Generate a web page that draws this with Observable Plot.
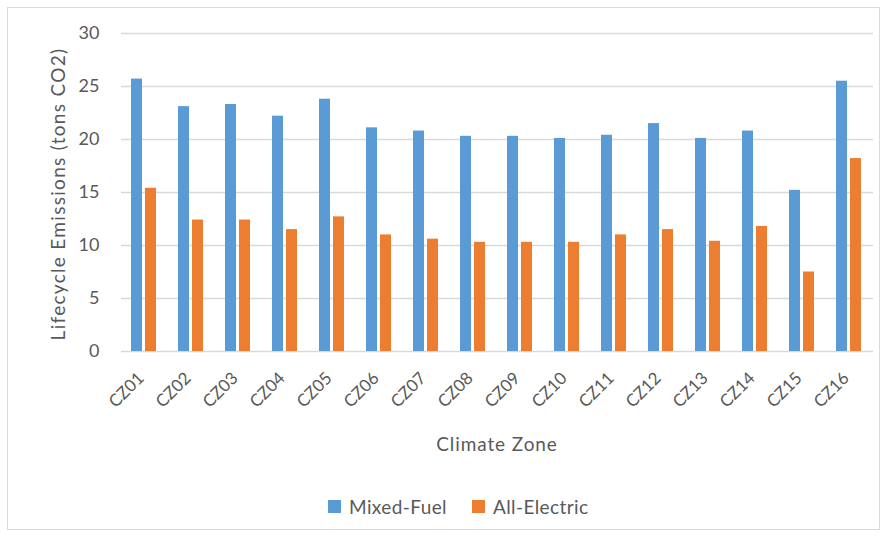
<!DOCTYPE html>
<html>
<head>
<meta charset="utf-8">
<script src="https://cdn.jsdelivr.net/npm/d3@7"></script>
<script src="https://cdn.jsdelivr.net/npm/@observablehq/plot@0.6"></script>
<style>
  html, body { margin: 0; padding: 0; background: #fff; }
  body { width: 886px; height: 536px; position: relative; overflow: hidden; font-family: Lato, "Open Sans", sans-serif; }
  #frame { position: absolute; left: 7px; top: 7px; width: 871px; height: 521px; border: 1px solid #d9d9d9; }
  #chart { position: absolute; left: 0; top: 0; }
  .title { position: absolute; color: #595959; font-size: 19px; white-space: nowrap; line-height: 1; }
  #ytitle { left: 57px; top: 194px; transform: translate(-50%, -50%) rotate(-90deg); letter-spacing: 1.3px; }
  #xtitle { left: 497px; top: 443px; transform: translate(-50%, -50%); letter-spacing: 0.9px; }
  #legend { position: absolute; top: 495px; left: 0; width: 886px; color: #595959; font-size: 19px; letter-spacing: 0.4px; }
  .item { position: absolute; display: flex; align-items: center; white-space: nowrap; }
  .sw { width: 13px; height: 13px; margin-right: 8px; display: inline-block; }
</style>
</head>
<body>
<div id="frame"></div>
<div id="chart"></div>
<div id="ytitle" class="title"></div>
<div id="xtitle" class="title"></div>
<div id="legend"></div>
<script>
// Lifecycle emissions per climate zone, mixed-fuel vs all-electric homes
const zones = ["CZ01","CZ02","CZ03","CZ04","CZ05","CZ06","CZ07","CZ08","CZ09","CZ10","CZ11","CZ12","CZ13","CZ14","CZ15","CZ16"];
const mixedFuel   = [25.7, 23.1, 23.3, 22.2, 23.8, 21.1, 20.8, 20.3, 20.3, 20.1, 20.4, 21.5, 20.1, 20.8, 15.2, 25.5];
const allElectric = [15.4, 12.4, 12.4, 11.5, 12.7, 11.0, 10.6, 10.3, 10.3, 10.3, 11.0, 11.5, 10.4, 11.8, 7.5, 18.2];
const seriesNames = ["Mixed-Fuel", "All-Electric"];
const seriesColors = ["#5B9BD5", "#ED7D31"];
const yTicks = [0, 5, 10, 15, 20, 25, 30];
const yTitle = "Lifecycle Emissions (tons CO2)";
const xTitle = "Climate Zone";

const rows = zones.flatMap((z, i) => [
  {zone: z, series: seriesNames[0], value: mixedFuel[i]},
  {zone: z, series: seriesNames[1], value: allElectric[i]}
]);

const textColor = "#595959";

const chart = Plot.plot({
  width: 886,
  height: 470,
  marginLeft: 119,
  marginRight: 11,
  marginTop: 33,
  marginBottom: 119,
  style: {fontFamily: "Lato, 'Open Sans', sans-serif", color: textColor, background: "transparent"},
  fx: {domain: zones, padding: 0},
  x: {domain: seriesNames, paddingInner: 0.25, paddingOuter: 0.8, axis: null},
  y: {domain: [0, 30], ticks: yTicks},
  color: {domain: seriesNames, range: seriesColors},
  marks: [
    Plot.gridY(yTicks, {stroke: "#d9d9d9", strokeOpacity: 1, strokeWidth: 1.3}),
    Plot.axisY(yTicks, {tickSize: 0, tickPadding: 22, fontSize: 18, fill: textColor, label: null}),
    Plot.axisFx({
      anchor: "bottom", tickSize: 0, tickPadding: 24, tickRotate: -45, fontSize: 17, fill: textColor,
      dx: -4, label: null
    }),
    Plot.barY(rows, {fx: "zone", x: "series", y: "value", fill: "series", dx: -1})
  ]
});
document.getElementById("chart").appendChild(chart);

// Axis titles
document.getElementById("ytitle").textContent = yTitle;
document.getElementById("xtitle").textContent = xTitle;

// Legend below the plot
const legend = document.getElementById("legend");
const legendLeft = [328, 472];
seriesNames.forEach((name, i) => {
  const item = document.createElement("div");
  item.className = "item";
  item.style.left = legendLeft[i] + "px";
  const sw = document.createElement("span");
  sw.className = "sw";
  sw.style.background = seriesColors[i];
  item.appendChild(sw);
  item.appendChild(document.createTextNode(name));
  legend.appendChild(item);
});
</script>
</body>
</html>
